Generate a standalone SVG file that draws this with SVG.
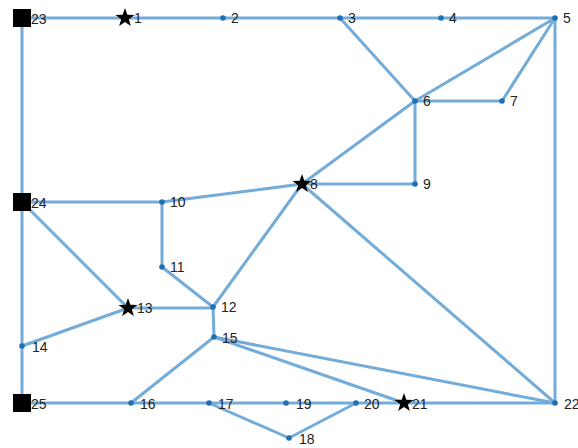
<svg xmlns="http://www.w3.org/2000/svg" width="578" height="448" viewBox="0 0 578 448">
<defs>
<style>
.e{stroke:#73acd8;stroke-width:3;fill:none;stroke-linecap:round}
.d{fill:#1f6fb4}
.s{fill:#000}
text{font-family:"Liberation Sans",Arial,sans-serif;font-size:14px;fill:#222}
</style>
<circle id="dot" r="2.8" class="d"/>
<rect id="sq" x="-9" y="-9" width="18" height="18" class="s"/>
<polygon id="st" class="s" points="0,-10 2.35,-3.24 9.51,-3.09 3.8,1.24 5.88,8.09 0,4 -5.88,8.09 -3.8,1.24 -9.51,-3.09 -2.35,-3.24"/>
</defs>
<rect width="578" height="448" fill="#fff"/>
<g id="edges">
<path class="e" d="M22,18H555"/>
<path class="e" d="M22,18V403"/>
<path class="e" d="M340,18L415,101"/>
<path class="e" d="M555,18L415,101"/>
<path class="e" d="M555,18L502,101"/>
<path class="e" d="M415,101H502"/>
<path class="e" d="M555,18V403"/>
<path class="e" d="M415,101V184"/>
<path class="e" d="M415,101L302,184"/>
<path class="e" d="M302,184H415"/>
<path class="e" d="M302,184L162,202"/>
<path class="e" d="M22,202H162"/>
<path class="e" d="M162,202V267"/>
<path class="e" d="M162,267L213,307"/>
<path class="e" d="M302,184L213,307"/>
<path class="e" d="M302,184L555,403"/>
<path class="e" d="M22,202L128,308"/>
<path class="e" d="M128,308H213"/>
<path class="e" d="M128,308L22,346"/>
<path class="e" d="M213,307L214,337"/>
<path class="e" d="M214,337L131,403"/>
<path class="e" d="M214,337L555,403"/>
<path class="e" d="M214,337L404,403"/>
<path class="e" d="M22,403H555"/>
<path class="e" d="M209,403L289,438"/>
<path class="e" d="M289,438L356,403"/>
</g>
<g id="n1"><use href="#st" x="125" y="18"/><text x="134" y="23">1</text></g>
<g id="n2"><use href="#dot" x="223" y="18"/><text x="231" y="23">2</text></g>
<g id="n3"><use href="#dot" x="340" y="18"/><text x="348" y="23">3</text></g>
<g id="n4"><use href="#dot" x="441" y="18"/><text x="449" y="23">4</text></g>
<g id="n5"><use href="#dot" x="555" y="18"/><text x="563" y="23">5</text></g>
<g id="n6"><use href="#dot" x="415" y="101"/><text x="423" y="106">6</text></g>
<g id="n7"><use href="#dot" x="502" y="101"/><text x="510" y="106">7</text></g>
<g id="n8"><use href="#st" x="302" y="184"/><text x="310" y="189">8</text></g>
<g id="n9"><use href="#dot" x="415" y="184"/><text x="423" y="189">9</text></g>
<g id="n10"><use href="#dot" x="162" y="202"/><text x="170" y="207">10</text></g>
<g id="n11"><use href="#dot" x="162" y="267"/><text x="170" y="272">11</text></g>
<g id="n12"><use href="#dot" x="213" y="307"/><text x="221" y="312">12</text></g>
<g id="n13"><use href="#st" x="128" y="308"/><text x="137" y="313">13</text></g>
<g id="n14"><use href="#dot" x="22" y="346"/><text x="32" y="352">14</text></g>
<g id="n15"><use href="#dot" x="214" y="337"/><text x="222" y="343">15</text></g>
<g id="n16"><use href="#dot" x="131" y="403"/><text x="140" y="409">16</text></g>
<g id="n17"><use href="#dot" x="209" y="403"/><text x="218" y="409">17</text></g>
<g id="n18"><use href="#dot" x="289" y="438"/><text x="299" y="444">18</text></g>
<g id="n19"><use href="#dot" x="286" y="403"/><text x="296" y="409">19</text></g>
<g id="n20"><use href="#dot" x="356" y="403"/><text x="364" y="409">20</text></g>
<g id="n21"><use href="#st" x="404" y="403"/><text x="412" y="409">21</text></g>
<g id="n22"><use href="#dot" x="555" y="403"/><text x="564" y="409">22</text></g>
<g id="n23"><use href="#sq" x="22" y="18"/><text x="31" y="24">23</text></g>
<g id="n24"><use href="#sq" x="22" y="202"/><text x="31" y="208">24</text></g>
<g id="n25"><use href="#sq" x="22" y="403"/><text x="31" y="409">25</text></g>
</svg>
